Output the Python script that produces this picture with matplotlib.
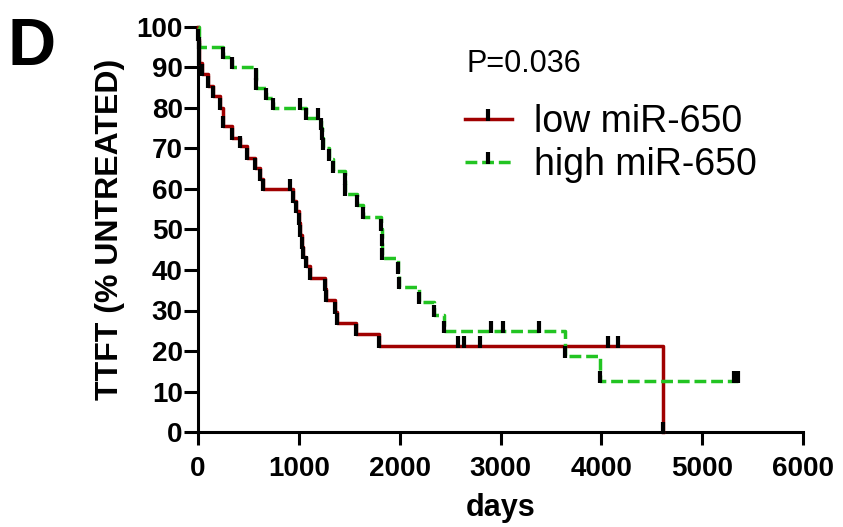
import matplotlib
matplotlib.use("Agg")
import matplotlib.pyplot as plt
from matplotlib.path import Path
from matplotlib.lines import Line2D

plt.rcParams['font.family'] = ['Liberation Sans', 'DejaVu Sans']

# low miR-650: event times (days) and survival level after each event
low_event_t = [4, 8, 12, 40, 100, 150, 215, 250, 333, 415, 481, 563, 613, 645,
               942, 975, 1000, 1008, 1030, 1040, 1074, 1107, 1260, 1272, 1354,
               1383, 1568, 1798, 4615]
low_event_s = [97, 94, 91, 88.3, 85.5, 83, 80, 75.6, 72.7, 70.6, 67.7, 65.3, 62.4, 59.9,
               57, 54.6, 51.7, 48.7, 45.8, 43.3, 40.9, 38.0, 35.3, 32.6, 29.7,
               27.0, 24.2, 21.3, 0]
low_cens_t = [909, 2582, 2638, 2793, 4071, 4170]
low_cens_s = [59.9, 21.3, 21.3, 21.3, 21.3, 21.3]

# high miR-650
high_event_t = [10, 250, 333, 575, 580, 679, 745, 1074, 1222, 1230, 1240, 1300, 1340,
                1453, 1460, 1580, 1640, 1815, 1820, 1825, 1979, 1990, 2194, 2342,
                2441, 3643, 3989]
high_event_s = [95, 92.5, 90, 87.5, 85, 82.5, 80, 77.5, 75, 72.5, 70, 67.5, 64.5,
                61.5, 58.7, 56, 53, 50, 46.5, 43, 39.5, 35.9, 32.2, 28.9,
                25, 18.8, 12.5]
high_cens_t = [1008, 1189, 2902, 3024, 3380, 5320, 5360]
high_cens_s = [80, 77.5, 25, 25, 25, 12.5, 12.5]

RED = '#a00000'
GREEN = '#22c422'

# vertical tick symbol, mostly above the point
tick = Path([(0, -0.25), (0, 1)], [Path.MOVETO, Path.LINETO])


def km_curve(ax, ev_t, ev_s, cens_t, cens_s, color, ls, z):
    t = [0] + ev_t
    s = [100] + ev_s
    end = max(ev_t + cens_t)
    if end > t[-1]:
        t.append(end)
        s.append(s[-1])
    ln = ax.step(t, s, where='post', color=color, lw=2.5, linestyle=ls,
                 zorder=z, clip_on=False)[0]
    if ls == '--':
        ln.set_dashes((3.4, 1.4))
    ax.plot(ev_t + cens_t, ev_s + cens_s, linestyle='none', marker=tick,
            markersize=13.8, markeredgewidth=3, color='black', zorder=5,
            clip_on=False)


fig = plt.figure(figsize=(8.43, 5.27), dpi=100)
ax = fig.add_axes([198 / 843, 1 - 432 / 527, 605 / 843, 405 / 527])

km_curve(ax, low_event_t, low_event_s, low_cens_t, low_cens_s, RED, '-', 3)
km_curve(ax, high_event_t, high_event_s, high_cens_t, high_cens_s, GREEN, '--', 4)

ax.set_xlim(0, 6000)
ax.set_ylim(0, 100)
ax.set_xticks(range(0, 6001, 1000))
ax.set_yticks(range(0, 101, 10))
for side in ['top', 'right']:
    ax.spines[side].set_visible(False)
for side in ['left', 'bottom']:
    ax.spines[side].set_linewidth(2.2)
ax.tick_params(axis='x', length=9, width=2.2, labelsize=20, pad=8)
ax.tick_params(axis='y', length=10, width=2.2, labelsize=20, pad=1)
for lab in ax.get_xticklabels() + ax.get_yticklabels():
    lab.set_fontweight('bold')

ax.set_xlabel('days', fontsize=22, fontweight='bold', labelpad=8)
ax.set_ylabel('TTFT (% UNTREATED)', fontsize=23, fontweight='bold', labelpad=8)

ax.text(0.444, 0.89, 'P=0.036', transform=ax.transAxes, fontsize=22)

handles = [
    Line2D([], [], color=RED, lw=2.5, marker=tick, markersize=13.8,
           markeredgewidth=3, markeredgecolor='black'),
    Line2D([], [], color=GREEN, lw=2.5, dashes=(3.4, 1.4), marker=tick,
           markersize=13.8, markeredgewidth=3, markeredgecolor='black'),
]
ax.legend(handles, ['low miR-650', 'high miR-650'], loc='upper left',
          bbox_to_anchor=(0.441, 0.81), frameon=False, fontsize=27,
          handlelength=1.25, handletextpad=0.6, labelspacing=0.2,
          borderpad=0, borderaxespad=0, numpoints=1)

fig.text(8 / 843, 1 - 65 / 527, 'D', fontsize=48, fontweight='bold')

fig.savefig('out.png', dpi=100)
